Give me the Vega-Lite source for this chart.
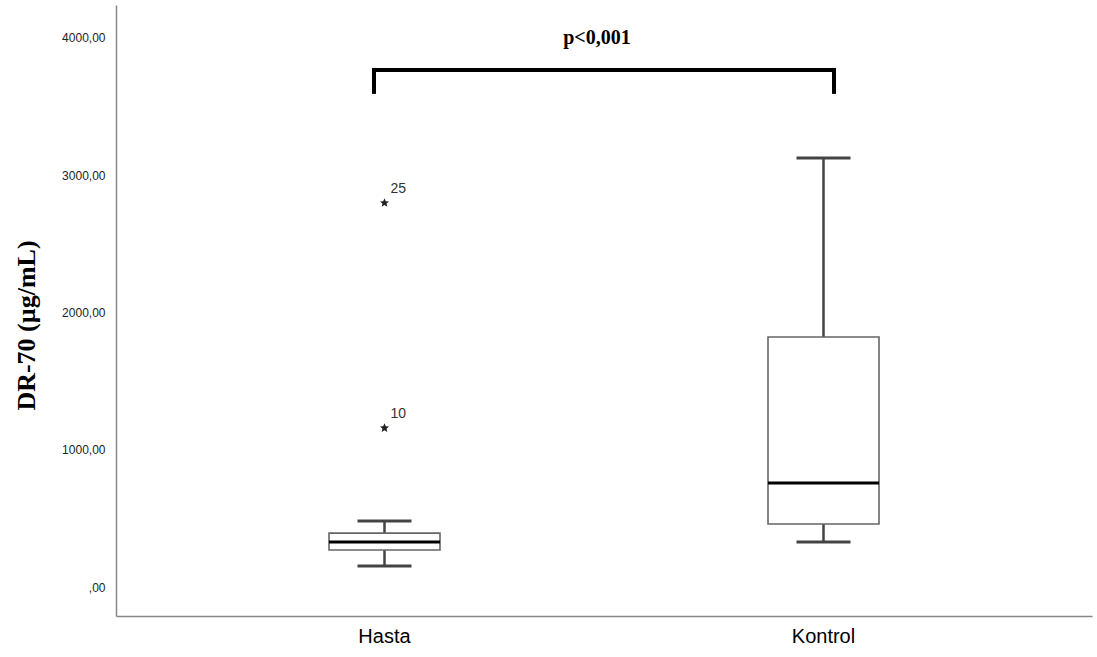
{
  "$schema": "https://vega.github.io/schema/vega-lite/v6.json",
  "autosize": "none",
  "width": 976,
  "height": 611,
  "padding": {"left": 116, "top": 5, "right": 5, "bottom": 41},
  "background": "white",
  "config": {"view": {"stroke": null}},
  "datasets": {
    "stats": [
      {"group": "Hasta", "lower": 153, "q1": 270, "median": 328, "q3": 393, "upper": 481},
      {"group": "Kontrol", "lower": 328, "q1": 459, "median": 758, "q3": 1821, "upper": 3126}
    ],
    "outliers": [
      {"group": "Hasta", "value": 2798, "case": "25"},
      {"group": "Hasta", "value": 1158, "case": "10"}
    ],
    "one": [{}]
  },
  "layer": [
    {
      "data": {"name": "stats"},
      "mark": {"type": "rule", "stroke": "#444", "strokeWidth": 2.5},
      "encoding": {
        "x": {
          "field": "group", "type": "nominal",
          "scale": {"domain": ["Hasta", "Kontrol"], "paddingInner": 0, "paddingOuter": 0.1116},
          "axis": {
            "title": null, "labelAngle": 0, "ticks": false, "domain": true,
            "domainColor": "#888", "domainWidth": 1.5,
            "labelFont": "Liberation Sans", "labelFontSize": 20, "labelColor": "#000",
            "labelPadding": 10
          }
        },
        "y": {
          "field": "lower", "type": "quantitative",
          "scale": {"domain": [-211, 4240], "nice": false, "zero": false},
          "axis": {
            "values": [0, 1000, 2000, 3000, 4000],
            "labelExpr": "datum.value == 0 ? ',00' : replace(format(datum.value, '.2f'), '.', ',')",
            "grid": false, "ticks": false, "domain": true,
            "domainColor": "#888", "domainWidth": 1.5,
            "labelFont": "Liberation Sans", "labelFontSize": 12, "labelColor": "#222",
            "labelPadding": 11,
            "title": "DR-70 (µg/mL)",
            "titleFont": "Liberation Serif", "titleFontSize": 26, "titleFontWeight": "bold",
            "titleColor": "#000", "titleAngle": -90, "titleX": -90, "titleY": 320,
            "titleAlign": "center", "titleBaseline": "middle"
          }
        },
        "y2": {"field": "upper"}
      }
    },
    {
      "data": {"name": "stats"},
      "mark": {"type": "bar", "width": 111, "fill": "white", "stroke": "#666", "strokeWidth": 1.6},
      "encoding": {
        "x": {"field": "group", "type": "nominal"},
        "y": {"field": "q1", "type": "quantitative"},
        "y2": {"field": "q3"}
      }
    },
    {
      "data": {"name": "stats"},
      "mark": {"type": "tick", "size": 111, "thickness": 3, "color": "#000", "opacity": 1},
      "encoding": {
        "x": {"field": "group", "type": "nominal"},
        "y": {"field": "median", "type": "quantitative"}
      }
    },
    {
      "data": {"name": "stats"},
      "mark": {"type": "tick", "size": 54, "thickness": 3, "color": "#444", "opacity": 1},
      "encoding": {
        "x": {"field": "group", "type": "nominal"},
        "y": {"field": "upper", "type": "quantitative"}
      }
    },
    {
      "data": {"name": "stats"},
      "mark": {"type": "tick", "size": 54, "thickness": 3, "color": "#444", "opacity": 1},
      "encoding": {
        "x": {"field": "group", "type": "nominal"},
        "y": {"field": "lower", "type": "quantitative"}
      }
    },
    {
      "data": {"name": "outliers"},
      "mark": {
        "type": "point", "filled": true, "color": "#222", "opacity": 1, "size": 90,
        "shape": "M0,-1L0.265,-0.364L0.951,-0.309L0.428,0.139L0.588,0.809L0,0.45L-0.588,0.809L-0.428,0.139L-0.951,-0.309L-0.265,-0.364Z"
      },
      "encoding": {
        "x": {"field": "group", "type": "nominal"},
        "y": {"field": "value", "type": "quantitative"}
      }
    },
    {
      "data": {"name": "outliers"},
      "mark": {"type": "text", "align": "left", "baseline": "middle", "dx": 6, "dy": -14, "font": "Liberation Sans", "fontSize": 14, "color": "#333"},
      "encoding": {
        "x": {"field": "group", "type": "nominal"},
        "y": {"field": "value", "type": "quantitative"},
        "text": {"field": "case"}
      }
    },
    {
      "data": {"name": "one"},
      "mark": {"type": "rule", "color": "#000", "strokeWidth": 4, "xOffset": -10.5, "x2Offset": 10.5, "strokeCap": "square"},
      "encoding": {
        "x": {"datum": "Hasta", "type": "nominal"},
        "x2": {"datum": "Kontrol"},
        "y": {"datum": 3767, "type": "quantitative"}
      }
    },
    {
      "data": {"name": "one"},
      "mark": {"type": "rule", "color": "#000", "strokeWidth": 4, "xOffset": -10.5, "strokeCap": "square"},
      "encoding": {
        "x": {"datum": "Hasta", "type": "nominal"},
        "y": {"datum": 3767, "type": "quantitative"},
        "y2": {"datum": 3607}
      }
    },
    {
      "data": {"name": "one"},
      "mark": {"type": "rule", "color": "#000", "strokeWidth": 4, "xOffset": 10.5, "strokeCap": "square"},
      "encoding": {
        "x": {"datum": "Kontrol", "type": "nominal"},
        "y": {"datum": 3767, "type": "quantitative"},
        "y2": {"datum": 3607}
      }
    },
    {
      "data": {"values": [{"label": "p<0,001"}]},
      "mark": {"type": "text", "align": "center", "baseline": "middle", "dx": 212.5, "font": "Liberation Serif", "fontSize": 20, "fontWeight": "bold", "color": "#000"},
      "encoding": {
        "x": {"datum": "Hasta", "type": "nominal"},
        "y": {"datum": 4000, "type": "quantitative"},
        "text": {"field": "label"}
      }
    }
  ]
}
